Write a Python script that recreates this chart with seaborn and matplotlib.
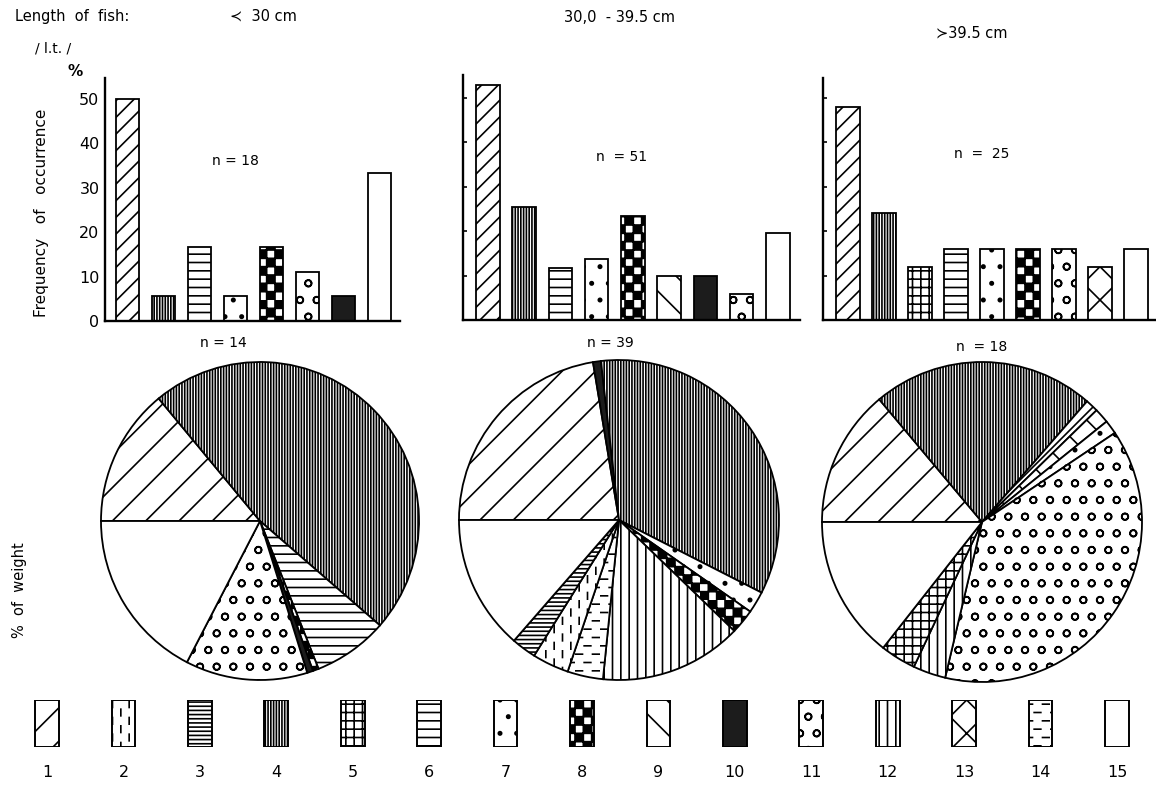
import numpy as np
import pandas as pd
import matplotlib
matplotlib.use("Agg")
import matplotlib.pyplot as plt
import matplotlib.hatch as mhatch
from matplotlib.path import Path
import seaborn as sns

# ---------------- data ----------------
size_groups = ["\u227a  30 cm", "30,0  - 39.5 cm", "\u227b39.5 cm"]
freq_n = [18, 51, 25]
weight_n = [14, 39, 18]

# frequency of occurrence (%) per food item, one list per length class
freq_cats_small = ["1", "4", "6", "7", "8", "11", "10", "15"]
freq_vals_small = [50.0, 5.6, 16.7, 5.6, 16.7, 11.1, 5.6, 33.3]
freq_cats_mid = ["1", "4", "6", "7", "8", "9", "10", "11", "15"]
freq_vals_mid = [52.9, 25.5, 11.8, 13.7, 23.5, 9.8, 9.8, 5.9, 19.6]
freq_cats_large = ["1", "4", "5", "6", "7", "8", "11", "13", "15"]
freq_vals_large = [48.0, 24.0, 12.0, 16.0, 16.0, 16.0, 16.0, 12.0, 16.0]

# % of weight per food item (clockwise from the left horizontal radius)
weight_cats_small = ["1", "4", "6", "8", "10", "11", "15"]
weight_vals_small = [14.0, 47.4, 7.6, 0.6, 0.6, 12.4, 17.4]
weight_cats_mid = ["1", "10", "4", "7", "8", "12", "14", "2", "3", "15"]
weight_vals_mid = [22.4, 0.8, 34.3, 2.2, 2.5, 14.4, 3.6, 3.7, 2.5, 13.6]
weight_cats_large = ["1", "4", "1", "13", "7", "11", "12", "5", "15"]
weight_vals_large = [13.9, 22.5, 1.3, 1.5, 1.4, 38.1, 3.3, 3.6, 14.4]

food_codes = [str(i) for i in range(1, 16)]
y_ticks = [0, 10, 20, 30, 40, 50]

# fill style per food item: (bar hatch, pie/key hatch, face colour)
styles = {
    "1": ("//", "/", "white"),
    "2": ("O", "O", "white"),
    "3": ("----", "----", "white"),
    "4": ("||||||", "||||||", "white"),
    "5": ("++", "++", "white"),
    "6": ("--", "--", "white"),
    "7": (".", ".", "white"),
    "8": ("*", "*", "white"),
    "9": ("\\", "\\", "white"),
    "10": ("", "", "#1c1c1c"),
    "11": ("o", "o", "white"),
    "12": ("||", "||", "white"),
    "13": ("x", "x", "white"),
    "14": ("OO", "OO", "white"),
    "15": ("", "", "white"),
}


# ---------------- extra hatch patterns ----------------
class CheckerHatch(mhatch.HatchPatternBase):
    """Filled squares on alternating cells ('*')."""

    def __init__(self, hatch, density):
        self.cells = hatch.count("*") * density * 2
        self.num_vertices = (self.cells * self.cells + 1) // 2 * 5

    def set_vertices_and_codes(self, vertices, codes):
        n = self.cells
        step = 1.0 / n
        square = np.array([[0, 0], [1, 0], [1, 1], [0, 1], [0, 0]], float) * step
        sq_codes = [Path.MOVETO, Path.LINETO, Path.LINETO, Path.LINETO, Path.CLOSEPOLY]
        k = 0
        for i in range(n):
            for j in range(n):
                if (i + j) % 2 == 0:
                    vertices[k:k + 5] = square + (i * step, j * step)
                    codes[k:k + 5] = sq_codes
                    k += 5


class VerticalDashHatch(mhatch.HatchPatternBase):
    """Staggered short vertical dashes ('O')."""

    def __init__(self, hatch, density):
        active = hatch.count("O") == 1
        self.cols = 2 * density if active else 0
        self.rows = density if active else 0
        self.num_vertices = self.cols * self.rows * 2

    def set_vertices_and_codes(self, vertices, codes):
        k = 0
        for c in range(self.cols):
            x = (c + 0.5) / self.cols
            for r in range(self.rows):
                y0 = (r + 0.5 * (c % 2) + 0.05) / self.rows
                vertices[k] = (x, y0)
                vertices[k + 1] = (x, y0 + 0.4 / self.rows)
                codes[k] = Path.MOVETO
                codes[k + 1] = Path.LINETO
                k += 2


class HorizontalDashHatch(mhatch.HatchPatternBase):
    """Staggered short horizontal dashes ('OO')."""

    def __init__(self, hatch, density):
        active = hatch.count("O") == 2
        self.rows = 2 * density if active else 0
        self.cols = density if active else 0
        self.num_vertices = self.cols * self.rows * 2

    def set_vertices_and_codes(self, vertices, codes):
        k = 0
        for r in range(self.rows):
            y = (r + 0.5) / self.rows
            for c in range(self.cols):
                x0 = (c + 0.5 * (r % 2) + 0.05) / self.cols
                vertices[k] = (x0, y)
                vertices[k + 1] = (x0 + 0.4 / self.cols, y)
                codes[k] = Path.MOVETO
                codes[k + 1] = Path.LINETO
                k += 2


mhatch._hatch_types = [t for t in mhatch._hatch_types
                       if t not in (mhatch.LargeCircles, mhatch.Stars)]
mhatch._hatch_types += [CheckerHatch, VerticalDashHatch, HorizontalDashHatch]

# ---------------- style ----------------
sns.set_style("white")
plt.rcParams["font.family"] = ["DejaVu Sans"]
plt.rcParams["hatch.linewidth"] = 1.2
plt.rcParams["hatch.color"] = "black"
for key in ("text.color", "axes.labelcolor", "xtick.color", "ytick.color"):
    plt.rcParams[key] = "black"

W, H = 1156, 787
fig = plt.figure(figsize=(W / 100, H / 100), dpi=100)
fig.patch.set_facecolor("white")


def px_axes(left, top, right, bottom):
    return fig.add_axes([left / W, 1 - bottom / H, (right - left) / W, (bottom - top) / H])


def fig_text(x, y, s, **kw):
    kw.setdefault("ha", "center")
    kw.setdefault("va", "center")
    fig.text(x / W, 1 - y / H, s, **kw)


def draw_bars(ax, cats, vals, xlim, ylim_top, labels):
    df = pd.DataFrame({"food": cats, "pct": vals})
    sns.barplot(data=df, x="food", y="pct", order=cats, color="white",
                saturation=1, edgecolor="black", linewidth=1.3, width=0.65,
                errorbar=None, ax=ax)
    for patch, code in zip(ax.patches, cats):
        bar_hatch, _, face = styles[code]
        patch.set_hatch(bar_hatch)
        patch.set_facecolor(face)
    ax.set_xlim(*xlim)
    ax.set_ylim(0, ylim_top)
    ax.set_xticks([])
    ax.set_xlabel("")
    ax.set_ylabel("")
    ax.set_yticks(y_ticks)
    if labels:
        ax.set_yticklabels([str(t) for t in y_ticks], fontsize=11.5)
        ax.tick_params(axis="y", length=0, pad=4)
    else:
        ax.set_yticklabels([])
        ax.tick_params(axis="y", direction="in", length=3, width=1.2, left=True)
    sns.despine(ax=ax)
    for side in ("left", "bottom"):
        ax.spines[side].set_linewidth(1.7)
        ax.spines[side].set_color("black")
    ax.patch.set_alpha(0)


def draw_pie(ax, cats, vals):
    wedges, _ = ax.pie(vals, startangle=180, counterclock=False, radius=1,
                       wedgeprops=dict(edgecolor="black", linewidth=1.3))
    for w, code in zip(wedges, cats):
        _, pie_hatch, face = styles[code]
        w.set_hatch(pie_hatch)
        w.set_facecolor(face)
    ax.set_xlim(-1.02, 1.02)
    ax.set_ylim(-1.02, 1.02)
    ax.set_aspect("equal")
    ax.axis("off")


# ---------------- frequency of occurrence bars ----------------
unit = 4.44  # pixels per percent
bar_panels = [
    (freq_cats_small, freq_vals_small, (105, 78, 400, 321), (-0.625, 7.57), True),
    (freq_cats_mid, freq_vals_mid, (463, 75, 800, 320), (-0.69, 8.61), False),
    (freq_cats_large, freq_vals_large, (823, 78, 1156, 320), (-0.69, 8.56), False),
]
for cats, vals, box, xlim, labels in bar_panels:
    ax = px_axes(*box)
    draw_bars(ax, cats, vals, xlim, (box[3] - box[1]) / unit, labels)

# ---------------- % of weight pies ----------------
pie_panels = [
    (weight_cats_small, weight_vals_small, (260, 521, 159)),
    (weight_cats_mid, weight_vals_mid, (619, 520, 160)),
    (weight_cats_large, weight_vals_large, (982, 522, 160)),
]
for cats, vals, (cx, cy, r) in pie_panels:
    rr = 1.02 * r
    ax = px_axes(cx - rr, cy - rr, cx + rr, cy + rr)
    draw_pie(ax, cats, vals)

# ---------------- key of food items ----------------
key_ax = px_axes(8.8, 700, 1155.2, 747)
key_df = pd.DataFrame({"food": food_codes, "swatch": np.ones(len(food_codes))})
sns.barplot(data=key_df, x="food", y="swatch", order=food_codes, color="white",
            saturation=1, edgecolor="black", linewidth=1.4, width=0.31,
            errorbar=None, ax=key_ax)
for patch, code in zip(key_ax.patches, food_codes):
    _, key_hatch, face = styles[code]
    patch.set_hatch(key_hatch)
    patch.set_facecolor(face)
key_ax.set_ylim(0, 1)
key_ax.set_xlim(-0.5, len(food_codes) - 0.5)
key_ax.set_yticks([])
key_ax.set_xlabel("")
key_ax.set_ylabel("")
key_ax.tick_params(axis="x", length=0, pad=13, labelsize=11.5)
sns.despine(ax=key_ax, left=True, bottom=True)
key_ax.patch.set_alpha(0)

# ---------------- texts ----------------
fig_text(15, 17, "Length  of  fish:", ha="left", fontsize=10.5)
fig_text(263, 16, size_groups[0], fontsize=10.5)
fig_text(620, 17, size_groups[1], fontsize=10.5)
fig_text(972, 33, size_groups[2], fontsize=10.5)
fig_text(35, 48, "/ l.t. /", ha="left", fontsize=10)
fig_text(75, 71, "%", fontsize=11, fontweight="bold")
fig_text(42, 213, "Frequency   of   occurrence", rotation=90, fontsize=11)
fig_text(20, 590, "%  of  weight", rotation=90, fontsize=10.5)

freq_n_pos = [(235, 161), (622, 157), (982, 154)]
freq_n_fmt = ["n = {}", "n  = {}", "n  =  {}"]
for (x, y), fmt, n in zip(freq_n_pos, freq_n_fmt, freq_n):
    fig_text(x, y, fmt.format(n), fontsize=10)
weight_n_pos = [(223, 343), (610, 343), (982, 347)]
weight_n_fmt = ["n = {}", "n = {}", "n  = {}"]
for (x, y), fmt, n in zip(weight_n_pos, weight_n_fmt, weight_n):
    fig_text(x, y, fmt.format(n), fontsize=10)

fig.savefig("out.png", dpi=100, facecolor="white")
